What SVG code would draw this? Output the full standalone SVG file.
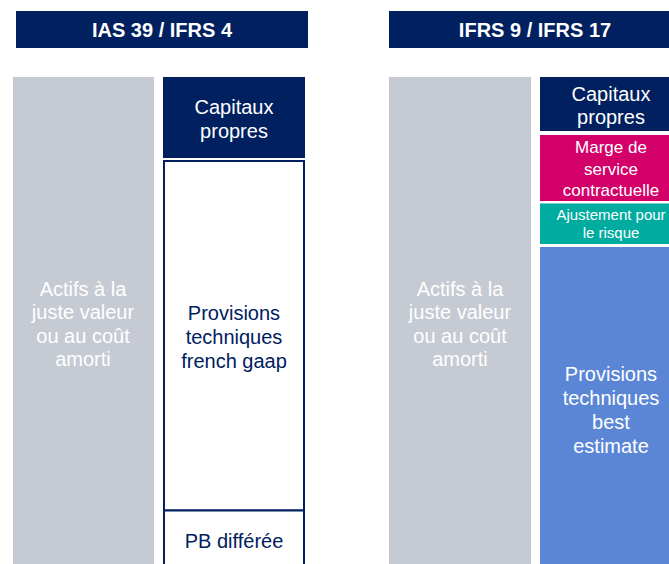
<svg xmlns="http://www.w3.org/2000/svg" width="669" height="564" viewBox="0 0 669 564">
<style>
text{font-family:"Liberation Sans",Arial,Helvetica,sans-serif;text-anchor:middle}
.hdr{fill:#002060}
.hdrt{fill:#ffffff;font-size:20px;font-weight:bold}
.gray{fill:#C6CAD3}
.wt{fill:#ffffff;font-size:20px}
.nt{fill:#002060;font-size:20px}
.navy{fill:#002060}
.outl{fill:#ffffff;stroke:#002060;stroke-width:2}
</style>
<rect width="669" height="564" fill="#ffffff"/>
<g id="header-left">
<rect class="hdr" x="16" y="11" width="292" height="37"/>
<text class="hdrt" x="162" y="37">IAS 39 / IFRS 4</text>
</g>
<g id="header-right">
<rect class="hdr" x="389" y="11" width="292" height="37"/>
<text class="hdrt" x="535" y="37">IFRS 9 / IFRS 17</text>
</g>
<g id="actifs-left">
<rect class="gray" x="13" y="77" width="141" height="487"/>
<text class="wt" x="83"><tspan x="83" y="295.5">Actifs à la</tspan><tspan x="83" y="319">juste valeur</tspan><tspan x="83" y="342.5">ou au coût</tspan><tspan x="83" y="366">amorti</tspan></text>
</g>
<g id="capitaux-left">
<rect class="navy" x="163" y="77" width="142" height="81"/>
<text class="wt"><tspan x="234" y="113.5">Capitaux</tspan><tspan x="234" y="137.5">propres</tspan></text>
</g>
<g id="provisions-french-gaap">
<rect class="outl" x="164" y="161" width="140" height="349.5"/>
<text class="nt"><tspan x="234" y="319.5">Provisions</tspan><tspan x="234" y="343.5">techniques</tspan><tspan x="234" y="367.5">french gaap</tspan></text>
</g>
<g id="pb-differee">
<rect class="outl" x="164" y="510.5" width="140" height="60"/>
<text class="nt" x="234" y="548">PB différée</text>
</g>
<g id="actifs-right">
<rect class="gray" x="389" y="77" width="142" height="487"/>
<text class="wt"><tspan x="460" y="295.5">Actifs à la</tspan><tspan x="460" y="319">juste valeur</tspan><tspan x="460" y="342.5">ou au coût</tspan><tspan x="460" y="366">amorti</tspan></text>
</g>
<g id="capitaux-right">
<rect class="navy" x="540" y="77" width="142" height="54"/>
<text class="wt"><tspan x="611" y="100.5">Capitaux</tspan><tspan x="611" y="124">propres</tspan></text>
</g>
<g id="marge-service">
<rect fill="#D3006A" x="540" y="135" width="142" height="66"/>
<text fill="#ffffff" font-size="17"><tspan x="611" y="153">Marge de</tspan><tspan x="611" y="174.5">service</tspan><tspan x="611" y="196">contractuelle</tspan></text>
</g>
<g id="ajustement-risque">
<rect fill="#00ACA0" x="540" y="203.5" width="142" height="40.5"/>
<text fill="#ffffff" font-size="15"><tspan x="611" y="220">Ajustement pour</tspan><tspan x="611" y="238">le risque</tspan></text>
</g>
<g id="provisions-best-estimate">
<rect fill="#5B86D6" x="540" y="247" width="142" height="317"/>
<text class="wt"><tspan x="611" y="380.5">Provisions</tspan><tspan x="611" y="404.5">techniques</tspan><tspan x="611" y="428.5">best</tspan><tspan x="611" y="452.5">estimate</tspan></text>
</g>
<g id="connectors"></g>
</svg>
